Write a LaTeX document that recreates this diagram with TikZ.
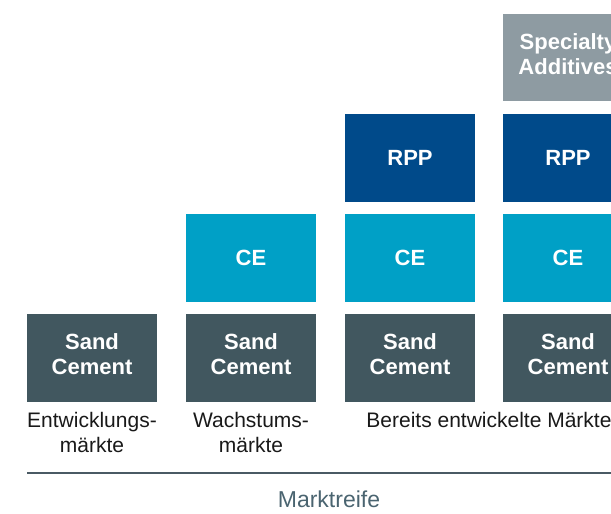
\documentclass[tikz,border=0pt]{standalone}
\usepackage{fontspec}
\setmainfont{Liberation Sans}

\definecolor{sandcolor}{RGB}{65,87,95}
\definecolor{cecolor}{RGB}{0,160,198}
\definecolor{rppcolor}{RGB}{0,74,138}
\definecolor{specialtycolor}{RGB}{142,155,162}
\definecolor{rulecolor}{RGB}{74,90,100}
\definecolor{maturitycolor}{RGB}{74,100,112}
\definecolor{labelcolor}{RGB}{25,25,25}

\tikzset{
  segment/.style={minimum width=130pt, minimum height=88pt, inner sep=0pt,
    text=white, align=center, font=\bfseries\fontsize{22}{25}\selectfont},
  twoline/.style={text depth=7pt},
  marketlabel/.style={anchor=north, inner sep=0pt, align=center, text=labelcolor,
    font=\fontsize{21}{25}\selectfont}
}

\begin{document}
\begin{tikzpicture}[x=1pt,y=-1pt]
  \useasboundingbox (0,0) rectangle (611,514);

  % Bottom row: sand cement in every market
  \node[segment, twoline, fill=sandcolor] (sand1) at (92,358) {Sand\\Cement};
  \node[segment, twoline, fill=sandcolor] (sand2) at (251,358) {Sand\\Cement};
  \node[segment, twoline, fill=sandcolor] (sand3) at (410,358) {Sand\\Cement};
  \node[segment, twoline, fill=sandcolor] (sand4) at (568,358) {Sand\\Cement};

  % Second row: CE
  \node[segment, fill=cecolor] (ce2) at (251,258) {CE};
  \node[segment, fill=cecolor] (ce3) at (410,258) {CE};
  \node[segment, fill=cecolor] (ce4) at (568,258) {CE};

  % Third row: RPP
  \node[segment, fill=rppcolor] (rpp3) at (410,158) {RPP};
  \node[segment, fill=rppcolor] (rpp4) at (568,158) {RPP};

  % Top: specialty additives
  \node[segment, twoline, fill=specialtycolor, minimum height=87pt] (spec4) at (568,57.5) {Specialty\\Additives};

  % Market labels
  \node[marketlabel] (emerging) at (92,412.5) {Entwicklungs-\\märkte};
  \node[marketlabel] (growth) at (251,412.5) {Wachstums-\\märkte};
  \node[marketlabel] (developed) at (489,412.5) {Bereits entwickelte Märkte};

  % Axis rule and its caption
  \coordinate (axisleft) at (27,473);
  \coordinate (axisright) at (611,473);
  \draw[rulecolor, line width=1.6pt] (axisleft) -- (axisright);
  \node[anchor=base, inner sep=0pt, text=maturitycolor, font=\fontsize{23}{27}\selectfont]
    (maturity) at (329,507.5) {Marktreife};

\end{tikzpicture}
\end{document}
